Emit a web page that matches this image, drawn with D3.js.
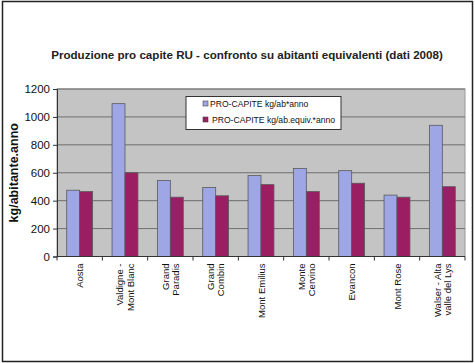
<!DOCTYPE html>
<html><head><meta charset="utf-8">
<script src="https://cdn.jsdelivr.net/npm/d3@7"></script>
<style>body{margin:0;background:#fff}svg{display:block}</style>
</head><body>
<script>
const categories = [["Aosta"],["Valdigne -","Mont Blanc"],["Grand","Paradis"],["Grand","Combin"],["Mont Emilius"],["Monte","Cervino"],["Evancon"],["Mont Rose"],["Walser - Alta","valle del Lys"]];
const seriesNames = ["PRO-CAPITE kg/ab*anno","PRO-CAPITE kg/ab.equiv.*anno"];
const perCapita = [475, 1095, 545, 495, 580, 630, 615, 440, 940];
const perEquiv = [465, 600, 425, 435, 515, 465, 525, 425, 500];
const yTicks = [0,200,400,600,800,1000,1200];
const colors = ["#9ea6e6","#9b1d62"];

const W=475,H=363;
const svg=d3.select("body").append("svg").attr("width",W).attr("height",H);
svg.append("rect").attr("x",2.5).attr("y",1.5).attr("width",470).attr("height",360).attr("fill","#fff").attr("stroke","#222").attr("stroke-width",1.5);

const L=57,R=465,T=89,B=256.5;
const x=d3.scaleBand().domain(d3.range(categories.length)).range([L,R]).paddingInner(0).paddingOuter(0);
const y=d3.scaleLinear().domain([0,1200]).range([B,T]);

svg.append("rect").attr("x",L).attr("y",T).attr("width",R-L).attr("height",B-T).attr("fill","#c4c4c4").attr("stroke","#9a9a9a").attr("stroke-width",1);

svg.append("g").selectAll("line").data(yTicks.filter(d=>d>0)).join("line")
 .attr("x1",L).attr("x2",R).attr("y1",d=>y(d)).attr("y2",d=>y(d)).attr("stroke","#6e6e6e").attr("stroke-width",1);

const bw=x.bandwidth()/3.5;
const series=[perCapita,perEquiv];
series.forEach((vals,si)=>{
  svg.append("g").selectAll("rect").data(vals).join("rect")
   .attr("x",(d,i)=>x(i)+bw*0.75+si*bw).attr("y",d=>y(d)).attr("width",bw).attr("height",d=>B-y(d))
   .attr("fill",colors[si]).attr("stroke","#5a5a5a").attr("stroke-width",0.8);
});

// y axis
const ya=svg.append("g").attr("transform",`translate(${L},0)`).call(d3.axisLeft(y).tickValues(yTicks).tickSize(4).tickPadding(3).tickFormat(d3.format("d")));
ya.select(".domain").attr("stroke","#333");
ya.selectAll(".tick line").attr("stroke","#333");
ya.selectAll("text").attr("font-family","Liberation Sans, Arial, sans-serif").attr("font-size","11.5px").attr("fill","#111");

// x axis
const xa=svg.append("g").attr("transform",`translate(0,${B})`);
xa.append("line").attr("x1",L).attr("x2",R).attr("stroke","#333");
xa.selectAll(".tk").data(d3.range(categories.length+1)).join("line")
 .attr("x1",i=>L+i*x.bandwidth()).attr("x2",i=>L+i*x.bandwidth()).attr("y1",0).attr("y2",4).attr("stroke","#333");
categories.forEach((lines,i)=>{
  const cx=x(i)+x.bandwidth()/2;
  const n=lines.length;
  lines.forEach((t,j)=>{
    const lx=cx+(j-(n-1)/2)*10.5+3.5;
    svg.append("text").attr("transform",`translate(${lx},${B+7}) rotate(-90)`)
     .attr("text-anchor","end").attr("font-family","Liberation Sans, Arial, sans-serif").attr("font-size","9.5px").attr("fill","#111").text(t);
  });
});

// title
svg.append("text").attr("x",247).attr("y",59).attr("text-anchor","middle").attr("font-family","Liberation Sans, Arial, sans-serif").attr("font-weight","bold").attr("font-size","11.6px").attr("fill","#222")
 .text("Produzione pro capite RU - confronto su abitanti equivalenti (dati 2008)");

// y label
svg.append("text").attr("transform",`translate(18,${(T+B)/2}) rotate(-90)`).attr("text-anchor","middle").attr("font-family","Liberation Sans, Arial, sans-serif").attr("font-weight","bold").attr("font-size","12.5px").attr("fill","#111").text("kg/abitante.anno");

// legend
const lg=svg.append("g");
lg.append("rect").attr("x",186).attr("y",96.5).attr("width",155).attr("height",33).attr("fill","#fff").attr("stroke","#333").attr("stroke-width",1);
seriesNames.forEach((s,i)=>{
  const ry=104+i*16;
  lg.append("rect").attr("x",203).attr("y",ry-3).attr("width",5).attr("height",5).attr("fill",colors[i]).attr("stroke","#444").attr("stroke-width",0.6);
  lg.append("text").attr("x",210+i*2).attr("y",ry+3).attr("font-family","Liberation Sans, Arial, sans-serif").attr("font-size","8.6px").attr("fill","#111").text(s);
});
</script>
</body></html>
